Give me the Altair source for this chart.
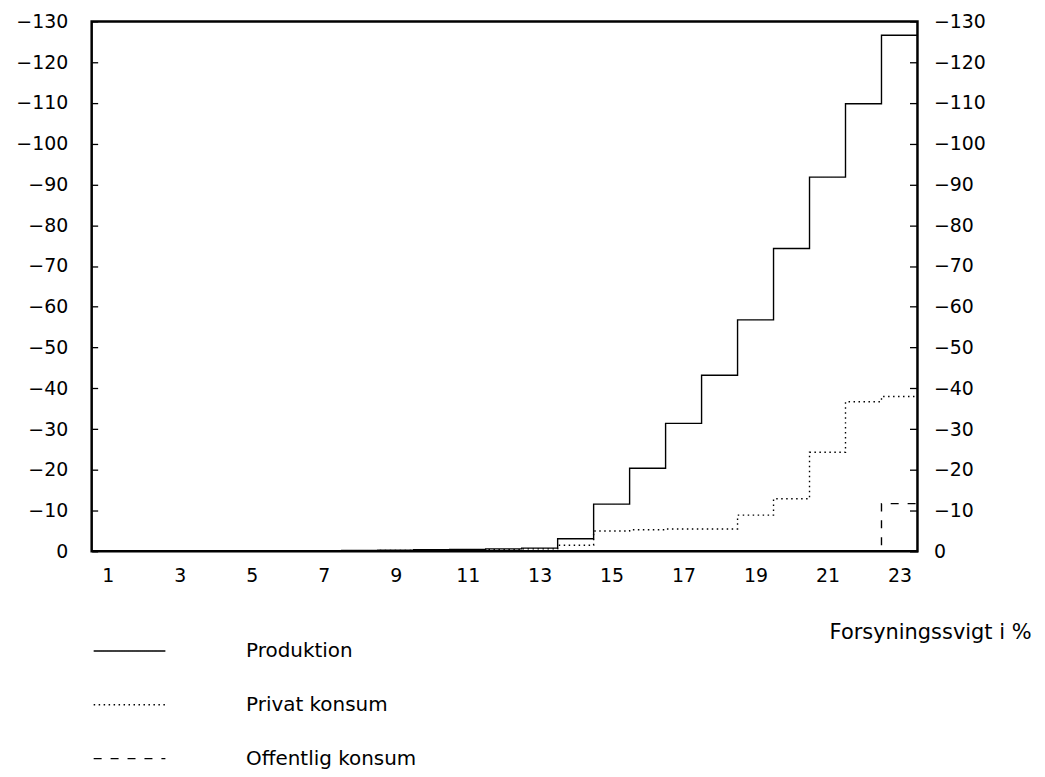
import altair as alt
import pandas as pd

# ---- data ----
x_vals = list(range(1, 24))
series_names = ["Produktion", "Privat konsum", "Offentlig konsum"]
produktion = [0, 0, 0, 0, 0, 0, 0, 0.2, 0.3, 0.4, 0.5, 0.6, 0.8, 3.1, 11.6,
              20.4, 31.4, 43.2, 56.8, 74.3, 91.8, 109.8, 126.6]
privat = [0, 0, 0, 0, 0, 0, 0, 0.1, 0.2, 0.3, 0.3, 0.4, 0.6, 1.5, 5.0,
          5.3, 5.5, 5.5, 8.9, 12.9, 24.3, 36.7, 38.0]
offentlig = [0] * 22 + [11.7]
x_ticks = list(range(1, 24, 2))
y_ticks = list(range(0, 131, 10))

X_LO, X_HI = 0.55, 23.5
FONT = "DejaVu Sans"

rows = []
for name, vals in zip(series_names, [produktion, privat, offentlig]):
    xs = [X_LO] + x_vals + [X_HI]
    ys = [vals[0]] + vals + [vals[-1]]
    for xv, yv in zip(xs, ys):
        rows.append({"x": xv, "v": yv, "serie": name})
df = pd.DataFrame(rows)

label_expr = "datum.value == 0 ? '0' : '\u2212' + datum.value"

x_enc = alt.X(
    "x:Q",
    scale=alt.Scale(domain=[X_LO, X_HI], nice=False, zero=False),
    axis=alt.Axis(
        values=x_ticks, title="Forsyningssvigt i %", grid=False, ticks=False,
        domain=False, labelPadding=15, labelFontSize=19, labelFont=FONT,
        labelColor="black", titleFont=FONT, titleFontSize=21,
        titleFontWeight="normal", titleColor="black", titleAlign="right",
        titleBaseline="alphabetic", titleX=943, titleY=87, labelFlush=False,
        titleLimit=400,
    ),
)

y_scale = alt.Scale(domain=[0, 130], nice=False, zero=True)

lines = alt.Chart(df).mark_line(
    interpolate="step", color="black", strokeWidth=1.4, clip=True
).encode(
    x=x_enc,
    y=alt.Y(
        "v:Q", scale=y_scale,
        axis=alt.Axis(
            orient="left", values=y_ticks, labelExpr=label_expr, title=None,
            ticks=False, domain=False, grid=True, gridDash=[6, 3000],
            gridColor="black", gridWidth=1.3, gridOpacity=1,
            labelPadding=24, labelFontSize=19, labelFont=FONT,
            labelColor="black",
        ),
    ),
    strokeDash=alt.StrokeDash(
        "serie:N",
        scale=alt.Scale(domain=series_names,
                        range=[[1, 0], [1.5, 3.5], [8, 9]]),
        legend=alt.Legend(
            orient="none", legendX=1, legendY=621, title=None,
            symbolType="stroke", symbolSize=5184, symbolStrokeWidth=1.3,
            symbolStrokeColor="black", labelOffset=80, labelFontSize=20,
            labelFont=FONT, labelColor="black", rowPadding=32,
            clipHeight=22, direction="vertical", padding=0, labelLimit=400,
        ),
    ),
    detail="serie:N",
)

right = alt.Chart(df).mark_line(strokeOpacity=0, clip=True).encode(
    x=alt.X("x:Q", scale=alt.Scale(domain=[X_LO, X_HI], nice=False, zero=False)),
    y=alt.Y(
        "v:Q", scale=y_scale,
        axis=alt.Axis(
            orient="right", values=y_ticks, labelExpr=label_expr, title=None,
            ticks=False, domain=False, grid=True, gridDash=[8, 3000],
            gridColor="black", gridWidth=1.3, gridOpacity=1,
            labelPadding=16, labelFontSize=19, labelFont=FONT,
            labelColor="black",
        ),
    ),
    detail="serie:N",
)

chart = alt.layer(lines, right).resolve_axis(y="independent").properties(
    width=829, height=532,
    autosize=alt.AutoSizeParams(type="none"),
    padding={"left": 84, "top": 12, "right": 120, "bottom": 217},
    background="white",
).configure_view(stroke="black", strokeWidth=2.5)

chart.save("out.html", embed_options={"renderer": "svg", "actions": False})
